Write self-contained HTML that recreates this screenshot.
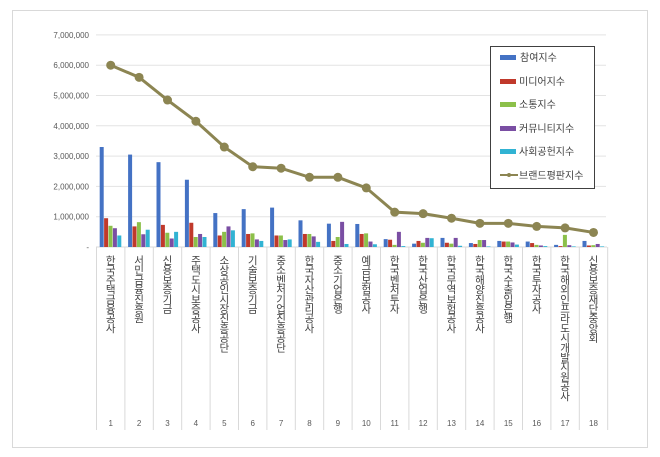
<!DOCTYPE html>
<html><head><meta charset="utf-8"><style>
html,body{margin:0;padding:0;background:#fff;}
svg{display:block;font-family:"Liberation Sans","Noto Sans CJK KR",sans-serif;}
</style></head><body>
<svg width="660" height="457" viewBox="0 0 660 457">
<rect x="12.5" y="10.5" width="635" height="437" fill="#fff" stroke="#d9d9d9"/>
<g id="grid" stroke="#e3e3e3" stroke-width="1"></g>
<g id="ylab" font-size="8" fill="#595959" text-anchor="end"></g>
<g id="sep" stroke="#d9d9d9" stroke-width="1"></g>
<g id="bars"></g>
<g id="line"></g>
<g id="cats" font-size="10.5" fill="#404040"></g>
<g id="nums" font-size="8" fill="#595959" text-anchor="middle"></g>
<rect x="490.5" y="46.5" width="104" height="142" fill="#fff" stroke="#404040"/>
<g font-size="10" fill="#404040">
<rect x="500" y="55" width="16" height="5" fill="#4472c4"/><text x="520" y="61">참여지수</text>
<rect x="500" y="79" width="16" height="5" fill="#c0392b"/><text x="519" y="85">미디어지수</text>
<rect x="500" y="102" width="16" height="5" fill="#8cc04a"/><text x="519" y="108">소통지수</text>
<rect x="500" y="126" width="16" height="5" fill="#7a4ea3"/><text x="519" y="132">커뮤니티지수</text>
<rect x="500" y="149" width="16" height="5" fill="#31b3d3"/><text x="519" y="155">사회공헌지수</text>
<line x1="500" y1="175" x2="518" y2="175" stroke="#8c8552" stroke-width="2"/><circle cx="509" cy="175" r="2" fill="#8c8552"/><text x="519" y="179">브랜드평판지수</text>
</g>
</svg>
<script>
const ns="http://www.w3.org/2000/svg";
function el(p,t,a,txt){const e=document.createElementNS(ns,t);for(const k in a)e.setAttribute(k,a[k]);if(txt!==undefined)e.textContent=txt;document.getElementById(p).appendChild(e);return e;}
const y0=247,ppm=30.3,x0=96.5,step=28.4;
const Y=v=>y0-v*ppm;
for(let i=0;i<=7;i++){const y=Y(i);if(i>0)el("grid","line",{x1:96,x2:606,y1:y,y2:y});
el("ylab","text",{x:89,y:y+3},i==0?"-":(i+",000,000"));}
for(let i=0;i<=18;i++){const x=x0+i*step;el("sep","line",{x1:x,x2:x,y1:247,y2:430});}
el("sep","line",{x1:96,x2:607,y1:247,y2:247});
const B=[[3.3,.95,.7,.62,.38],[3.05,.68,.82,.42,.57],[2.8,.73,.47,.28,.5],[2.22,.8,.33,.43,.33],[1.12,.38,.5,.68,.55],[1.25,.43,.45,.25,.2],[1.3,.38,.38,.23,.25],[.88,.43,.43,.35,.17],[.77,.2,.33,.83,.1],[.76,.43,.45,.18,.09],[.26,.24,.07,.5,.03],[.11,.2,.14,.3,.29],[.3,.14,.11,.3,.04],[.13,.1,.23,.23,.02],[.2,.18,.18,.15,.08],[.18,.13,.07,.05,.03],[.07,.03,.4,.06,.02],[.2,.05,.06,.1,.02]];
const C=["#4472c4","#c0392b","#8cc04a","#7a4ea3","#31b3d3"];
const L=[6.0,5.6,4.85,4.15,3.3,2.65,2.6,2.3,2.3,1.95,1.15,1.1,0.95,0.78,0.78,0.68,0.63,0.48];
const N=["한국주택금융공사","서민금융진흥원","신용보증기금","주택도시보증공사","소상공인시장진흥공단","기술보증기금","중소벤처기업진흥공단","한국자산관리공사","중소기업은행","예금보험공사","한국벤처투자","한국산업은행","한국무역보험공사","한국해양진흥공사","한국수출입은행","한국투자공사","한국해외인프라도시개발지원공사","신용보증재단중앙회"];
let pts=[];
for(let i=0;i<18;i++){const cx=x0+i*step+step/2;
 B[i].forEach((v,j)=>{const h=v*ppm;el("bars","rect",{x:cx-11+j*4.4,y:y0-h,width:4,height:h,fill:C[j]});});
 pts.push(cx+","+Y(L[i]));
 [...N[i]].forEach((ch,k)=>el("cats","text",{x:cx,y:264+k*9.7,"text-anchor":"middle"},ch));
 el("nums","text",{x:cx,y:426},i+1);
}
el("line","polyline",{points:pts.join(" "),fill:"none",stroke:"#8c8552","stroke-width":3});
pts.forEach(p=>{const [x,y]=p.split(",");el("line","circle",{cx:x,cy:y,r:4.5,fill:"#8c8552"});});
</script>
</body></html>
